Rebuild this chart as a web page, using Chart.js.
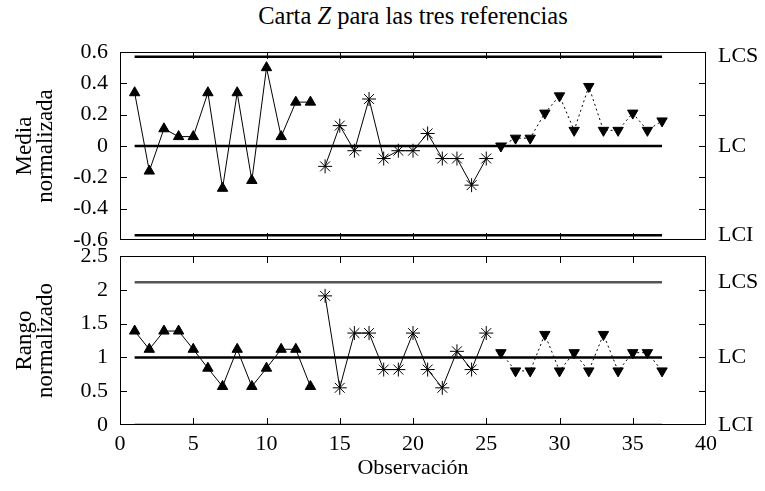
<!DOCTYPE html>
<html>
<head>
<meta charset="utf-8">
<script src="https://cdn.jsdelivr.net/npm/chart.js@4"></script>
<style>
  body { margin: 0; background: #fff; }
  #wrap { position: relative; width: 765px; height: 491px; }
  #wrap canvas { position: absolute; left: 0; top: 0; }
  #title { position: absolute; left: 120px; width: 586px; top: 2px; text-align: center;
           font: 24.5px 'Liberation Serif', 'DejaVu Serif', serif; color: #000; }
</style>
</head>
<body>
<div id="wrap">
  <div id="title">Carta <i>Z</i> para las tres referencias</div>
  <canvas id="top" width="765" height="491"></canvas>
  <canvas id="bottom" width="765" height="491"></canvas>
</div>
<script>
// observaciones de cada referencia
const obsRefA = [1, 2, 3, 4, 5, 6, 7, 8, 9, 10, 11, 12, 13];
const obsRefB = [14, 15, 16, 17, 18, 19, 20, 21, 22, 23, 24, 25];
const obsRefC = [26, 27, 28, 29, 30, 31, 32, 33, 34, 35, 36, 37];

// media normalizada
const mediaRefA = [0.34, -0.16, 0.11, 0.06, 0.06, 0.34, -0.27, 0.34, -0.22, 0.50, 0.06, 0.28, 0.28];
const mediaRefB = [-0.13, 0.13, -0.03, 0.30, -0.08, -0.03, -0.03, 0.08, -0.08, -0.08, -0.25, -0.08];
const mediaRefC = [0.00, 0.05, 0.05, 0.21, 0.32, 0.10, 0.38, 0.10, 0.10, 0.21, 0.10, 0.16];

// rango normalizado
const rangoRefA = [1.39, 1.12, 1.39, 1.39, 1.12, 0.84, 0.57, 1.12, 0.57, 0.84, 1.12, 1.12, 0.57];
const rangoRefB = [1.91, 0.55, 1.36, 1.36, 0.82, 0.82, 1.36, 0.82, 0.55, 1.09, 0.82, 1.36];
const rangoRefC = [1.07, 0.80, 0.80, 1.34, 0.80, 1.07, 0.80, 1.34, 0.80, 1.07, 1.07, 0.80];

// limites de control: LCI, LC, LCS
const limitNames = ['LCI', 'LC', 'LCS'];
const mediaLimits = [-0.57, 0, 0.57];
const rangoLimits = [0, 1, 2.11];
const limitStart = 1;
const limitEnd = 37;

const xTicks = [0, 5, 10, 15, 20, 25, 30, 35, 40];

const FONT = "'Liberation Serif', 'DejaVu Serif', serif";

let zip = (xs, ys) => xs.map((x, i) => ({ x: x, y: ys[i] }));

let limitSets = (limits, colors) => limits.map((v, i) => ({
    data: [{ x: limitStart, y: v }, { x: limitEnd, y: v }],
    borderColor: colors[i],
    borderWidth: 2.5,
    pointRadius: 0,
    yAxisID: 'y'
}));

let seriesSets = (a, b, c) => [
    { data: a, borderColor: '#000', backgroundColor: '#000', borderWidth: 1,
      pointStyle: 'triangle', pointRadius: 6, pointBorderWidth: 1 },
    { data: b, borderColor: '#000', backgroundColor: '#000', borderWidth: 1,
      pointStyle: 'star', pointRadius: 7, pointBorderWidth: 1 },
    { data: c, borderColor: '#000', backgroundColor: '#000', borderWidth: 1, borderDash: [2, 3],
      pointStyle: 'triangle', pointRotation: 180, pointRadius: 6, pointBorderWidth: 1 }
];

// marco con marcas hacia dentro, estilo gnuplot
const frameTicks = {
    id: 'frameTicks',
    afterDraw(chart) {
        const { ctx, chartArea: a, scales } = chart;
        ctx.save();
        ctx.strokeStyle = '#000';
        ctx.lineWidth = 1;
        ctx.strokeRect(a.left + 0.5, a.top + 0.5, a.width - 1, a.height - 1);
        ctx.beginPath();
        xTicks.forEach(v => {
            let px = Math.round(scales.x.getPixelForValue(v)) + 0.5;
            if (px <= a.left + 2 || px >= a.right - 2) return;
            ctx.moveTo(px, a.top); ctx.lineTo(px, a.top + 7);
            ctx.moveTo(px, a.bottom); ctx.lineTo(px, a.bottom - 7);
        });
        scales.y.ticks.forEach(t => {
            let py = Math.round(scales.y.getPixelForValue(t.value)) + 0.5;
            if (py <= a.top + 2 || py >= a.bottom - 2) return;
            ctx.moveTo(a.left, py); ctx.lineTo(a.left + 7, py);
            ctx.moveTo(a.right, py); ctx.lineTo(a.right - 7, py);
        });
        ctx.stroke();
        ctx.restore();
    }
};

let fmt = v => Math.abs(v) < 1e-9 ? '0' : String(+v.toFixed(1));

let createChart = (id, datasets, yMin, yMax, yStep, yTitle, limits, pad, showX) => {
    let ctx = document.querySelector(id).getContext('2d');
    return new Chart(ctx, {
        type: 'line',
        data: { datasets: datasets },
        options: {
            responsive: false,
            animation: false,
            devicePixelRatio: 1,
            layout: { padding: pad },
            plugins: { legend: { display: false }, tooltip: { enabled: false } },
            scales: {
                x: {
                    type: 'linear', min: 0, max: 40,
                    display: showX,
                    afterBuildTicks: s => { s.ticks = xTicks.map(v => ({ value: v })); },
                    afterFit: s => { s.height = showX ? 59 : 0; },
                    grid: { display: false, drawTicks: false },
                    border: { display: false },
                    ticks: { color: '#000', padding: 6, maxRotation: 0, autoSkip: false,
                             font: { family: FONT, size: 22 } },
                    title: { display: true, text: 'Observación', color: '#000',
                             padding: { top: 0, bottom: 3 }, font: { family: FONT, size: 22 } }
                },
                y: {
                    min: yMin, max: yMax,
                    afterFit: s => { s.width = 120; },
                    grid: { display: false, drawTicks: false },
                    border: { display: false },
                    ticks: { stepSize: yStep, color: '#000', padding: 12, callback: fmt, autoSkip: false,
                             font: { family: FONT, size: 22 } },
                    title: { display: true, text: yTitle, color: '#000',
                             padding: { top: 14, bottom: 0 }, font: { family: FONT, size: 23, lineHeight: 0.92 } }
                },
                yr: {
                    position: 'right', min: yMin, max: yMax,
                    afterBuildTicks: s => { s.ticks = limits.map(v => ({ value: v })); },
                    afterFit: s => { s.width = 59; },
                    grid: { display: false, drawTicks: false },
                    border: { display: false },
                    ticks: { color: '#000', padding: 12, autoSkip: false,
                             callback: (v, i) => limitNames[i],
                             font: { family: FONT, size: 22 } }
                }
            }
        },
        plugins: [frameTicks]
    });
};

createChart('#top',
    limitSets(mediaLimits, ['#000', '#000', '#000']).concat(
        seriesSets(zip(obsRefA, mediaRefA), zip(obsRefB, mediaRefB), zip(obsRefC, mediaRefC))),
    -0.6, 0.6, 0.2, ['Media', 'normalizada'], mediaLimits,
    { top: 52, bottom: 251, left: 0, right: 0 }, false);

createChart('#bottom',
    limitSets(rangoLimits, ['#000', '#000', '#555']).concat(
        seriesSets(zip(obsRefA, rangoRefA), zip(obsRefB, rangoRefB), zip(obsRefC, rangoRefC))),
    0, 2.5, 0.5, ['Rango', 'normalizado'], rangoLimits,
    { top: 256, bottom: 7, left: 0, right: 0 }, true);
</script>
</body>
</html>
